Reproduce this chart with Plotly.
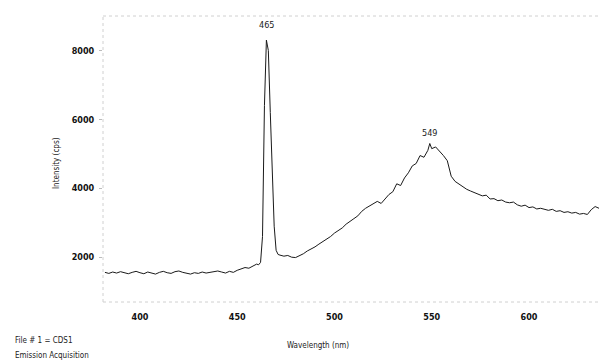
import plotly.graph_objects as go

wavelength_nm = [
    382, 384, 386, 388, 390, 392, 394, 396, 398, 400, 402, 404, 406, 408, 410,
    412, 414, 416, 418, 420, 422, 424, 426, 428, 430, 432, 434, 436, 438, 440,
    442, 444, 446, 448, 450, 452, 454, 456, 458, 460, 461, 462, 463, 464, 465,
    466, 467, 468, 469, 470, 471, 472, 474, 476, 478, 480, 482, 484, 486, 488,
    490, 492, 494, 496, 498, 500, 502, 504, 506, 508, 510, 512, 514, 516, 518,
    520, 522, 524, 526, 528, 530, 532, 534, 536, 538, 540, 542, 544, 546, 548,
    549, 550, 552, 554, 556, 558, 560, 562, 564, 566, 568, 570, 572, 574, 576,
    578, 580, 582, 584, 586, 588, 590, 592, 594, 596, 598, 600, 602, 604, 606,
    608, 610, 612, 614, 616, 618, 620, 622, 624, 626, 628, 630, 632, 634, 636,
]
intensity_cps = [
    1560, 1530, 1570, 1540, 1580, 1550, 1520, 1560, 1590, 1550, 1520, 1570, 1540, 1510, 1560,
    1590, 1550, 1530, 1580, 1600, 1560, 1530, 1510, 1550, 1530, 1570, 1540, 1560, 1590, 1600,
    1570, 1540, 1590, 1560, 1620, 1650, 1700, 1680, 1740, 1800, 1780, 1850, 2600, 6400, 8300,
    8000, 6200, 4300, 2900, 2200, 2080, 2060, 2030, 2050, 2000, 1990, 2040, 2100, 2180, 2230,
    2300, 2380, 2450, 2520, 2600, 2700, 2780, 2850, 2960, 3050, 3120, 3200, 3330, 3420, 3480,
    3560, 3620, 3560, 3700, 3820, 3900, 4130, 4080, 4300, 4450, 4650, 4720, 4950, 4900, 5100,
    5300, 5150, 5200, 5080, 4950, 4800, 4350, 4200, 4120, 4030, 3970, 3920, 3880, 3830, 3780,
    3800, 3690, 3700, 3640, 3660, 3600, 3580, 3600, 3520, 3480, 3510, 3440, 3460, 3400, 3420,
    3380, 3360, 3390, 3330, 3350, 3300, 3320, 3280, 3300, 3250, 3270, 3240, 3380, 3470, 3420,
]
peak_labels = ["465", "549"]
peak_x = [465, 549]
peak_y = [8750, 5600]
x_ticks = [400, 450, 500, 550, 600]
y_ticks = [2000, 4000, 6000, 8000]

tick_font = dict(family="DejaVu Sans Condensed", size=9, color="#111", weight="bold")
small_font = dict(family="DejaVu Sans Condensed", size=8, color="#222")

fig = go.Figure()
fig.add_trace(go.Scatter(
    x=wavelength_nm, y=intensity_cps, mode="lines",
    line=dict(color="#1a1a1a", width=1), showlegend=False, hoverinfo="skip",
))

for lbl, px, py in zip(peak_labels, peak_x, peak_y):
    fig.add_annotation(x=px, y=py, text=lbl, showarrow=False,
                       font=dict(family="DejaVu Sans Condensed", size=9, color="#222"),
                       xanchor="center", yanchor="middle")

L, R, T, B = 103, 600, 16, 302
W, H = 600, 362
pw, ph = R - L, B - T

def px2paper(x, y):
    return (x - L) / pw, (B - y) / ph

for txt, (x, y), anchor, angle in [
    ("Wavelength (nm)", (318, 346), "center", 0),
    ("Intensity (cps)", (56, 163), "center", -90),
    ("File # 1 = CDS1", (13, 341), "left", 0),
    ("Emission Acquisition", (13, 355), "left", 0),
]:
    xp, yp = px2paper(x, y)
    fig.add_annotation(x=xp, y=yp, xref="paper", yref="paper", text=txt,
                       showarrow=False, font=small_font, xanchor=anchor,
                       yanchor="middle", textangle=angle)

# dotted faint frame
for x0, y0, x1, y1 in [(0, 0, 1, 0), (0, 1, 1, 1), (0, 0, 0, 1)]:
    fig.add_shape(type="line", xref="paper", yref="paper", x0=x0, y0=y0, x1=x1, y1=y1,
                  line=dict(color="#d0d0d0", width=1, dash="dot"))

fig.update_layout(
    width=W, height=H,
    margin=dict(l=L, r=W - R, t=T, b=H - B),
    paper_bgcolor="white", plot_bgcolor="white",
    xaxis=dict(range=[381, 636.5], tickvals=x_ticks, showgrid=False, zeroline=False,
               showline=False, ticks="", tickfont=tick_font, ticklabelstandoff=8),
    yaxis=dict(range=[700, 9000], tickvals=y_ticks, showgrid=False, zeroline=False,
               showline=False, ticks="outside", ticklen=3, tickcolor="#bbb",
               tickfont=tick_font, ticklabelstandoff=3),
)

fig.write_html("out.html", config={"displayModeBar": False},
               post_script="document.body.style.margin='0';document.body.style.overflow='hidden';")
